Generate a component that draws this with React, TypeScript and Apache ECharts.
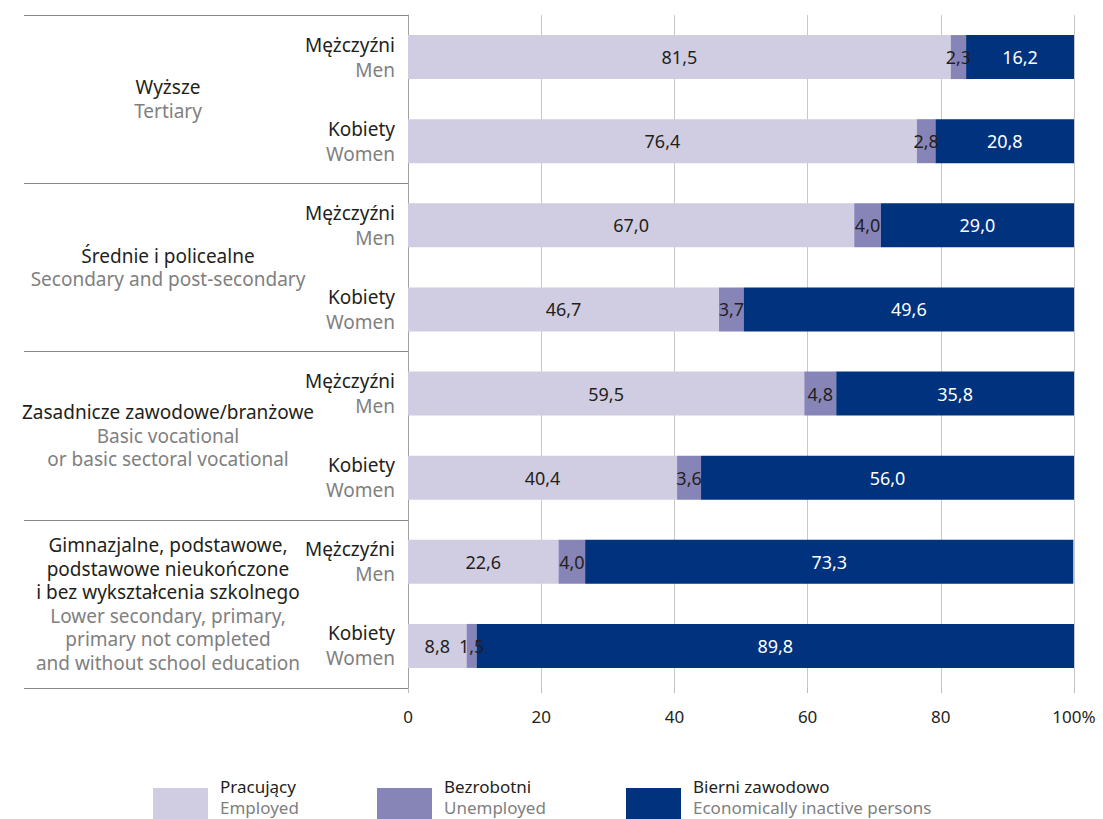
import React, { useEffect, useRef } from "react";
import * as echarts from "echarts";

const groupPl = [
  "Wyższe",
  "Średnie i policealne",
  "Zasadnicze zawodowe/branżowe",
  "Gimnazjalne, podstawowe,\npodstawowe nieukończone\ni bez wykształcenia szkolnego",
];
const groupEn = [
  "Tertiary",
  "Secondary and post-secondary",
  "Basic vocational\nor basic sectoral vocational",
  "Lower secondary, primary,\nprimary not completed\nand without school education",
];
const rowKeys = ["r0", "r1", "r2", "r3", "r4", "r5", "r6", "r7"];
const sexPl = ["Mężczyźni", "Kobiety"];
const sexEn = ["Men", "Women"];

const employed = [81.5, 76.4, 67.0, 46.7, 59.5, 40.4, 22.6, 8.8];
const unemployed = [2.3, 2.8, 4.0, 3.7, 4.8, 3.6, 4.0, 1.5];
const inactive = [16.2, 20.8, 29.0, 49.6, 35.8, 56.0, 73.3, 89.8];

const seriesPl = ["Pracujący", "Bezrobotni", "Bierni zawodowo"];
const seriesEn = ["Employed", "Unemployed", "Economically inactive persons"];
const colors = ["#D0CDE2", "#8785B8", "#00327E"];
const labelColors = ["#231F20", "#231F20", "#FFFFFF"];

const FONT = "'Noto Sans', 'Open Sans', sans-serif";

function fmt(v: number) {
  return v.toFixed(1).replace(".", ",");
}

export default function App() {
  const ref = useRef<HTMLDivElement>(null);
  useEffect(() => {
    if (!ref.current) return;
    const chart = echarts.init(ref.current, undefined, { renderer: "svg" });
    const values = [employed, unemployed, inactive];
    const legendX = [153, 377, 626];
    const graphics: any[] = [];
    legendX.forEach((x, i) => {
      graphics.push({
        type: "rect",
        shape: { x, y: 788, width: 55, height: 34 },
        style: { fill: colors[i] },
      });
      graphics.push({
        type: "text",
        x: x + 67,
        y: 776,
        style: {
          text: `{a|${seriesPl[i]}}\n{b|${seriesEn[i]}}`,
          fontFamily: FONT,
          rich: {
            a: { fontSize: 17, lineHeight: 21, fill: "#231F20", fontFamily: FONT },
            b: { fontSize: 17, lineHeight: 21, fill: "#808080", fontFamily: FONT },
          },
        },
      });
    });
    chart.setOption({
      animation: false,
      textStyle: { fontFamily: FONT },
      grid: { left: 408, right: 29, top: 15, bottom: 131 },
      xAxis: {
        type: "value",
        min: 0,
        max: 100,
        interval: 20,
        axisLine: { show: false },
        axisTick: { show: true, length: 5, lineStyle: { color: "#BBBBBB" } },
        splitLine: { show: true, lineStyle: { color: "#C8C8C8", width: 1 } },
        axisLabel: {
          margin: 20,
          fontSize: 17,
          color: "#231F20",
          fontFamily: FONT,
          formatter: (v: number) => (v === 100 ? "100%" : String(v)),
        },
      },
      yAxis: [
        {
          type: "category",
          data: rowKeys,
          inverse: true,
          axisLine: { show: true, lineStyle: { color: "#A0A0A0" } },
          axisTick: { show: false },
          axisLabel: {
            margin: 13,
            align: "right",
            formatter: (_v: string, idx: number) =>
              `{a|${sexPl[idx % 2]}}\n{b|${sexEn[idx % 2]}}`,
            rich: {
              a: { fontSize: 19, lineHeight: 25, color: "#231F20", fontFamily: FONT, align: "right" },
              b: { fontSize: 19, lineHeight: 25, color: "#808080", fontFamily: FONT, align: "right" },
            },
          },
        },
        {
          type: "category",
          data: groupPl,
          inverse: true,
          position: "left",
          axisLine: { show: false },
          axisTick: {
            show: true,
            length: 384,
            alignWithLabel: false,
            lineStyle: { color: "#8A8A8A" },
          },
          axisLabel: {
            margin: 240,
            align: "center",
            formatter: (_v: string, idx: number) => {
              const pl = groupPl[idx].split("\n").map((s) => `{a|${s}}`).join("\n");
              const en = groupEn[idx].split("\n").map((s) => `{b|${s}}`).join("\n");
              return pl + "\n" + en;
            },
            rich: {
              a: { fontSize: 19, lineHeight: 23.5, color: "#231F20", fontFamily: FONT, align: "center" },
              b: { fontSize: 19, lineHeight: 23.5, color: "#808080", fontFamily: FONT, align: "center" },
            },
          },
        },
      ],
      series: values.map((vals, i) => ({
        type: "bar",
        name: seriesPl[i],
        stack: "total",
        yAxisIndex: 0,
        barWidth: 44,
        data: vals,
        itemStyle: { color: colors[i] },
        label: {
          show: true,
          position: "inside",
          color: labelColors[i],
          fontSize: 18,
          fontFamily: FONT,
          formatter: (p: any) => fmt(p.value),
        },
      })),
      graphic: graphics,
    });
    return () => chart.dispose();
  }, []);
  return (
    <div
      ref={ref}
      style={{ position: "fixed", left: 0, top: 0, width: 1103, height: 819, background: "#fff" }}
    />
  );
}
